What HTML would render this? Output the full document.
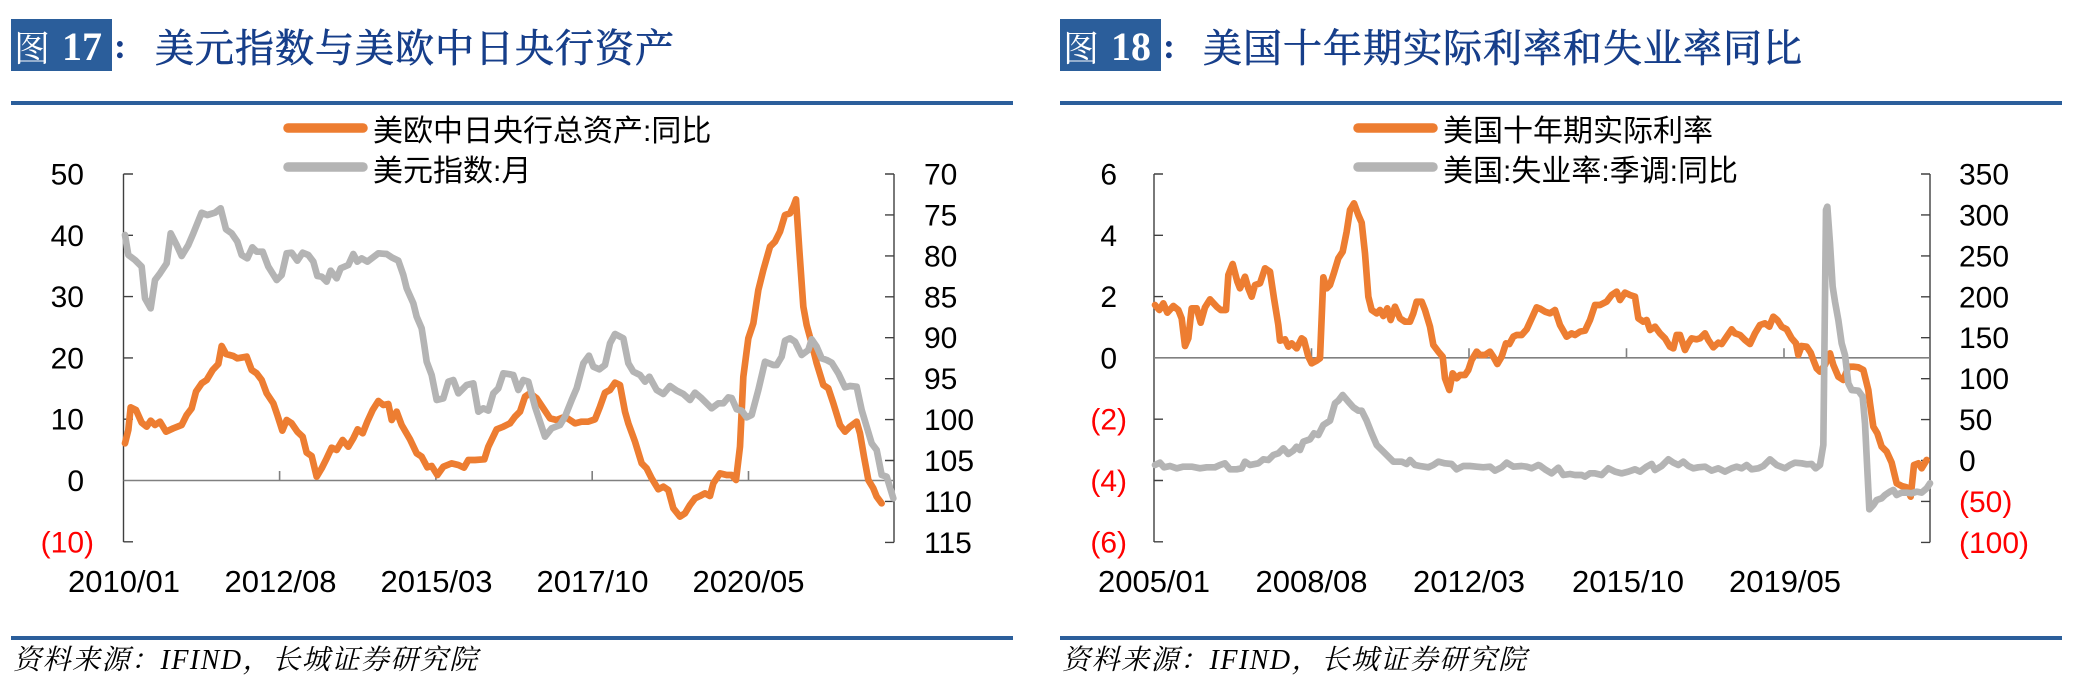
<!DOCTYPE html>
<html>
<head>
<meta charset="utf-8">
<style>
html,body{margin:0;padding:0;background:#fff;}
body{width:2077px;height:687px;overflow:hidden;}
svg{display:block;}
.tk{font-family:"Liberation Sans",Arial,sans-serif;font-size:30px;fill:#000;}
.red{fill:#FF0000;}
.xl{font-family:"Liberation Sans",Arial,sans-serif;font-size:31px;fill:#000;}
.lg{font-family:"Liberation Sans","Noto Sans CJK SC",sans-serif;font-size:30px;fill:#000;}
.tt{font-family:"Liberation Serif","Noto Serif CJK SC",serif;font-size:39px;letter-spacing:1px;fill:#163E8A;stroke:#163E8A;stroke-width:0.7px;}
.src{font-family:"Liberation Serif","Noto Serif CJK SC",serif;font-size:28px;font-style:italic;letter-spacing:1.5px;fill:#000;}
.ax{stroke:#404040;stroke-width:1.4;fill:none;}
.zl{stroke:#808080;stroke-width:1.6;fill:none;}
.or{stroke:#ED7D31;stroke-width:20;fill:none;stroke-linejoin:round;stroke-linecap:round;}
.gr{stroke:#B4B4B4;stroke-width:20;fill:none;stroke-linejoin:round;stroke-linecap:round;}
</style>
</head>
<body>
<svg width="2077" height="687" viewBox="0 0 2077 687" xmlns="http://www.w3.org/2000/svg">
<!-- ============ LEFT PANEL ============ -->
<rect x="11" y="19" width="101" height="52" fill="#2B5E9B"/>
<text x="14" y="61" font-family="Liberation Serif,'Noto Serif CJK SC',serif" font-size="36" fill="#fff">图</text>
<text x="62" y="60" font-family="Liberation Serif,serif" font-size="40" font-weight="bold" fill="#fff">17</text>
<text x="114" y="58" font-family="Liberation Serif,serif" font-size="36" font-weight="bold" fill="#163E8A">:</text>
<text class="tt" x="155" y="62">美元指数与美欧中日央行资产</text>
<rect x="11" y="101" width="1002" height="4" fill="#2B5E9B"/>

<!-- legend -->
<line x1="288" y1="128" x2="363" y2="128" stroke="#ED7D31" stroke-width="9.5" stroke-linecap="round"/>
<text class="lg" x="373" y="141">美欧中日央行总资产:同比</text>
<line x1="288" y1="167" x2="363" y2="167" stroke="#B4B4B4" stroke-width="9.5" stroke-linecap="round"/>
<text class="lg" x="373" y="181">美元指数:月</text>

<!-- axes -->
<path class="ax" d="M123.5 174 V542 M123.5 174 H133 M123.5 235.3 H133 M123.5 296.6 H133 M123.5 357.9 H133 M123.5 419.2 H133 M123.5 541.8 H133"/>
<path class="ax" d="M894 174 V542.4 M885 174 H894 M885 214.9 H894 M885 255.9 H894 M885 296.8 H894 M885 337.7 H894 M885 378.7 H894 M885 419.6 H894 M885 460.5 H894 M885 501.4 H894 M885 542.4 H894"/>
<path class="zl" d="M123.5 480.5 H894 M279.6 471 V480.5 M435.9 471 V480.5 M592.2 471 V480.5 M748.5 471 V480.5"/>

<!-- left y labels -->
<text class="tk" x="84" y="184.5" text-anchor="end">50</text>
<text class="tk" x="84" y="245.8" text-anchor="end">40</text>
<text class="tk" x="84" y="307.1" text-anchor="end">30</text>
<text class="tk" x="84" y="368.4" text-anchor="end">20</text>
<text class="tk" x="84" y="429.7" text-anchor="end">10</text>
<text class="tk" x="84" y="491" text-anchor="end">0</text>
<text class="tk red" x="94" y="552.3" text-anchor="end">(10)</text>
<!-- right y labels -->
<text class="tk" x="924" y="184.5">70</text>
<text class="tk" x="924" y="225.4">75</text>
<text class="tk" x="924" y="266.4">80</text>
<text class="tk" x="924" y="307.3">85</text>
<text class="tk" x="924" y="348.2">90</text>
<text class="tk" x="924" y="389.2">95</text>
<text class="tk" x="924" y="430.1">100</text>
<text class="tk" x="924" y="471">105</text>
<text class="tk" x="924" y="511.9">110</text>
<text class="tk" x="924" y="552.9">115</text>
<!-- x labels -->
<text class="xl" x="124" y="592" text-anchor="middle">2010/01</text>
<text class="xl" x="280.5" y="592" text-anchor="middle">2012/08</text>
<text class="xl" x="436.5" y="592" text-anchor="middle">2015/03</text>
<text class="xl" x="592.5" y="592" text-anchor="middle">2017/10</text>
<text class="xl" x="748.5" y="592" text-anchor="middle">2020/05</text>

<!-- left series -->
<g transform="translate(120,170) scale(0.33333)">
<polyline class="or" points="15,820 25,780 32,712 48,720 65,758 80,770 92,752 105,765 120,755 138,785 160,775 185,765 200,735 215,715 228,665 245,640 260,630 278,600 295,582 305,528 318,552 340,558 352,565 380,560 395,600 410,610 425,630 440,670 460,700 472,735 487,782 500,750 515,760 532,785 548,800 560,848 575,858 590,920 605,895 620,865 635,833 650,840 668,810 685,830 700,805 713,778 728,790 742,755 758,720 775,693 790,705 805,702 815,750 830,725 845,765 870,808 890,850 905,860 922,892 935,888 952,915 970,890 995,880 1015,885 1032,893 1045,870 1065,870 1093,868 1105,830 1130,778 1150,770 1170,760"/>
</g>
<g transform="translate(510,170) scale(0.33333)">
<polyline class="or" points="0,760 15,740 30,725 45,680 60,670 80,685 100,715 120,745 140,750 165,740 180,750 195,760 215,755 235,755 255,748 270,710 285,668 300,660 315,638 330,645 345,725 355,760 375,815 395,880 410,895 425,925 445,958 460,950 475,960 490,1015 510,1040 525,1030 540,1005 555,985 570,978 585,970 600,978 610,940 630,910 650,915 665,915 678,930 690,830 700,620 715,505 730,460 745,360 760,300 780,230 795,215 810,185 825,135 840,130 850,110 858,88 868,240 880,410 890,465 905,520 920,580 940,645 955,655 970,700 990,765 1005,785 1020,770 1040,755 1050,790 1062,860 1075,930 1090,955 1100,980 1115,1000"/>
</g>
<g transform="translate(120,170) scale(0.33333)">
<polyline class="gr" points="15,195 25,255 45,270 65,290 75,385 92,415 105,330 120,310 140,280 152,190 170,225 185,258 205,225 220,190 245,128 262,135 285,128 302,115 318,178 335,190 352,215 365,255 382,265 397,232 410,245 428,245 445,290 470,330 485,315 500,250 515,248 532,272 548,248 565,255 580,275 592,318 605,320 620,335 632,302 650,325 662,295 685,285 700,252 712,275 725,265 742,275 775,250 800,252 815,262 835,272 850,315 860,355 880,400 890,440 905,475 912,520 920,575 935,615 950,690 970,685 985,635 1000,630 1015,670 1040,645 1060,640 1075,725 1090,715 1105,722 1120,670 1135,655 1150,610 1170,613"/>
</g>
<g transform="translate(510,170) scale(0.33333)">
<polyline class="gr" points="0,613 10,615 25,660 40,630 55,635 75,710 105,800 125,775 150,765 165,740 185,690 200,655 220,580 237,557 250,590 268,598 285,585 300,520 315,492 340,505 355,580 370,605 390,615 405,635 418,620 440,660 460,672 480,648 500,662 520,672 540,690 555,668 575,685 605,715 625,700 640,700 655,682 665,684 680,718 695,722 710,742 725,735 745,660 765,575 790,585 800,585 815,560 825,512 840,505 855,515 875,555 895,540 905,508 920,530 935,565 950,570 965,578 985,610 1005,652 1020,648 1040,650 1055,720 1070,770 1085,820 1100,840 1115,915 1130,920 1150,985"/>
</g>

<rect x="11" y="636" width="1002" height="4" fill="#2B5E9B"/>
<text class="src" x="13" y="669">资料来源：IFIND，长城证券研究院</text>

<!-- ============ RIGHT PANEL ============ -->
<rect x="1060" y="19" width="101" height="52" fill="#2B5E9B"/>
<text x="1063" y="61" font-family="Liberation Serif,'Noto Serif CJK SC',serif" font-size="36" fill="#fff">图</text>
<text x="1111" y="60" font-family="Liberation Serif,serif" font-size="40" font-weight="bold" fill="#fff">18</text>
<text x="1163" y="58" font-family="Liberation Serif,serif" font-size="36" font-weight="bold" fill="#163E8A">:</text>
<text class="tt" x="1203" y="62">美国十年期实际利率和失业率同比</text>
<rect x="1060" y="101" width="1002" height="4" fill="#2B5E9B"/>

<line x1="1358" y1="128" x2="1433" y2="128" stroke="#ED7D31" stroke-width="9.5" stroke-linecap="round"/>
<text class="lg" x="1443" y="141">美国十年期实际利率</text>
<line x1="1358" y1="167" x2="1433" y2="167" stroke="#B4B4B4" stroke-width="9.5" stroke-linecap="round"/>
<text class="lg" x="1443" y="181">美国:失业率:季调:同比</text>

<path class="ax" d="M1154 174 V542 M1154 174 H1163 M1154 235.3 H1163 M1154 296.6 H1163 M1154 419.2 H1163 M1154 480.5 H1163 M1154 541.8 H1163"/>
<path class="ax" d="M1930 174 V542.4 M1921 174 H1930 M1921 214.9 H1930 M1921 255.9 H1930 M1921 296.8 H1930 M1921 337.7 H1930 M1921 378.7 H1930 M1921 419.6 H1930 M1921 460.5 H1930 M1921 501.4 H1930 M1921 542.4 H1930"/>
<path class="zl" d="M1154 357.8 H1930 M1311.5 348.3 V357.8 M1469 348.3 V357.8 M1626.5 348.3 V357.8 M1784 348.3 V357.8"/>

<text class="tk" x="1117" y="184.5" text-anchor="end">6</text>
<text class="tk" x="1117" y="245.8" text-anchor="end">4</text>
<text class="tk" x="1117" y="307.1" text-anchor="end">2</text>
<text class="tk" x="1117" y="368.4" text-anchor="end">0</text>
<text class="tk red" x="1127" y="429.7" text-anchor="end">(2)</text>
<text class="tk red" x="1127" y="491" text-anchor="end">(4)</text>
<text class="tk red" x="1127" y="552.3" text-anchor="end">(6)</text>

<text class="tk" x="1959" y="184.5">350</text>
<text class="tk" x="1959" y="225.4">300</text>
<text class="tk" x="1959" y="266.4">250</text>
<text class="tk" x="1959" y="307.3">200</text>
<text class="tk" x="1959" y="348.2">150</text>
<text class="tk" x="1959" y="389.2">100</text>
<text class="tk" x="1959" y="430.1">50</text>
<text class="tk" x="1959" y="471">0</text>
<text class="tk red" x="1959" y="511.9">(50)</text>
<text class="tk red" x="1959" y="552.9">(100)</text>

<text class="xl" x="1154" y="592" text-anchor="middle">2005/01</text>
<text class="xl" x="1311.5" y="592" text-anchor="middle">2008/08</text>
<text class="xl" x="1469" y="592" text-anchor="middle">2012/03</text>
<text class="xl" x="1628" y="592" text-anchor="middle">2015/10</text>
<text class="xl" x="1785" y="592" text-anchor="middle">2019/05</text>

<g transform="translate(1150,170) scale(0.33333)">
<polyline class="or" points="15,405 28,420 40,400 52,428 70,408 85,420 95,445 105,528 115,505 125,415 140,415 152,458 165,412 180,388 200,410 212,420 228,420 235,315 248,282 262,335 270,355 285,320 295,355 305,380 315,345 330,340 345,295 360,305 372,385 385,465 390,512 405,508 415,530 425,520 440,535 455,505 462,510 475,560 485,580 500,572 510,565 520,322 530,355 540,345 552,308 565,265 578,245 590,185 600,120 612,100 625,135 635,158 645,250 655,380 665,420 680,430 690,420 700,438 712,415 722,450 735,410 750,445 765,455 780,455 790,430 800,395 815,395 825,420 840,470 850,525 865,545 878,560 885,625 898,660 908,610 920,625 930,615 945,615 955,600 965,570 980,545 990,555 1005,555 1020,545 1030,560 1042,582 1055,560 1068,520 1078,522 1090,500 1100,495 1115,495 1130,478 1145,445 1160,412 1170,416"/>
</g>
<g transform="translate(1540,170) scale(0.33333)">
<polyline class="or" points="0,416 15,425 30,430 45,420 60,465 80,500 95,490 105,495 120,485 135,482 150,450 165,405 180,405 200,395 215,375 230,365 240,390 255,368 270,375 285,380 295,445 310,455 320,450 330,480 345,470 360,490 375,505 390,530 400,535 410,495 420,495 435,540 445,520 455,505 470,508 480,505 495,490 505,510 520,532 535,518 545,522 560,500 575,478 585,490 600,495 615,510 630,522 645,490 660,465 675,460 688,470 700,440 712,450 725,470 740,478 755,505 768,520 775,555 785,528 800,530 812,548 820,570 830,595 840,605 855,585 870,550 880,585 895,620 910,630 925,590 940,590 955,592 970,600 985,660 990,700 1000,770 1012,790 1025,830 1040,845 1055,878 1070,940 1085,948 1100,952 1112,980 1122,885 1135,880 1145,895 1160,870"/>
</g>
<g transform="translate(1150,170) scale(0.33333)">
<polyline class="gr" points="15,885 30,878 42,892 60,888 80,895 100,890 125,890 150,895 170,892 195,892 210,885 225,880 240,898 260,898 275,895 285,875 300,885 325,880 340,868 355,870 370,855 385,850 400,835 415,852 430,842 440,830 450,840 460,815 480,808 492,790 505,795 520,765 540,752 555,700 565,692 578,675 595,695 610,712 625,722 635,722 650,752 665,790 680,825 700,845 715,860 730,875 755,875 770,882 780,870 795,885 810,888 835,892 850,885 865,875 885,880 905,882 920,898 940,888 960,888 980,890 1000,892 1020,890 1035,902 1055,892 1070,878 1090,890 1115,888 1130,890 1145,895 1165,885 1170,887"/>
</g>
<g transform="translate(1540,170) scale(0.33333)">
<polyline class="gr" points="0,887 15,898 35,910 55,893 70,915 90,912 105,915 125,915 135,920 150,910 165,910 185,915 205,895 225,905 245,910 265,905 285,898 300,905 320,890 335,882 345,900 365,888 385,868 400,878 415,885 430,875 445,888 460,895 475,892 495,890 515,902 535,895 555,905 575,895 590,890 605,895 620,885 635,898 655,895 670,888 690,868 710,885 735,895 750,885 765,878 785,880 800,883 815,882 827,895 840,885 850,825 858,120 862,110 870,220 878,350 885,395 895,450 905,520 915,555 925,640 935,660 955,662 968,680 975,760 982,900 988,1018 1000,1005 1010,990 1025,985 1035,975 1050,965 1060,960 1070,975 1085,968 1100,968 1115,970 1130,965 1145,968 1160,955 1170,940"/>
</g>

<rect x="1060" y="636" width="1002" height="4" fill="#2B5E9B"/>
<text class="src" x="1062" y="669">资料来源：IFIND，长城证券研究院</text>
</svg>
</body>
</html>
